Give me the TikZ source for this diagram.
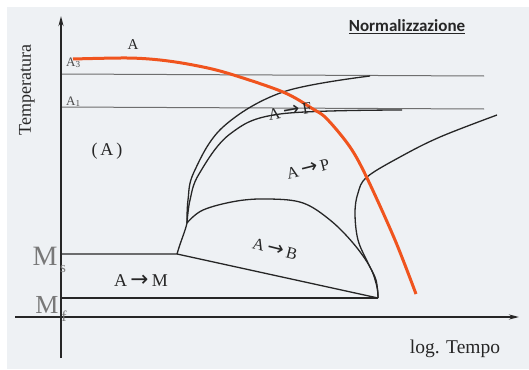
\documentclass[tikz,border=0pt]{standalone}
\usepackage{fontspec}
\setmainfont{Liberation Serif}
\newfontfamily\calib{Carlito}
\newfontfamily\arrfont{DejaVu Sans}
\newcommand\myarw{\hspace{0.18em}{\arrfont\scalebox{1.2}{→}}\hspace{0.18em}}
\usetikzlibrary{arrows.meta}
\definecolor{bgc}{RGB}{238,241,244}
\definecolor{orng}{RGB}{240,84,30}
\definecolor{grayl}{RGB}{110,110,110}
\definecolor{msgray}{RGB}{120,120,120}
\tikzset{
  curve/.style={line width=1.3pt, black!85},
  isoline/.style={line width=1pt, grayl},
  axis/.style={line width=1.8pt, black!85, -{Stealth[length=10pt,width=5pt]}},
  lbl/.style={inner sep=0pt, text=black!85},
}
\begin{document}
\begin{tikzpicture}[x=1pt,y=-1pt]
\useasboundingbox (0,0) rectangle (529,369);
\fill[white] (0,0) rectangle (529,369);
\fill[bgc] (7,7) rectangle (529,369);
% isotherm lines
\coordinate (a3l) at (61,74); \coordinate (a3r) at (484,76);
\coordinate (a1l) at (61,107); \coordinate (a1r) at (484,109);
\draw[isoline] (a3l) -- (a3r);
\draw[isoline] (a1l) -- (a1r);
% Ms, Mf lines
\coordinate (msl) at (61,254); \coordinate (ms) at (177,254);
\coordinate (mfl) at (61,298); \coordinate (nose) at (378,298);
\coordinate (stem) at (187,223);
\draw[curve] (msl) -- (ms) -- (nose);
\draw[curve] (mfl) -- (nose);
\draw[curve] (ms) .. controls (181,240) and (185,232) .. (stem);
% ferrite start
\draw[curve] plot[smooth, tension=0.6] coordinates {(187,223) (188,200) (194,172) (223,127) (283,92) (370,76)};
% pearlite start
\draw[curve] plot[smooth, tension=0.6] coordinates {(187,223) (190,200) (199,174) (230,134) (280,114) (402,110)};
% bainite nose
\draw[curve] plot[smooth, tension=0.6] coordinates {(187,223) (203,210) (237,201) (270,199) (303,203) (330,220) (353,243) (370,267) (377,287) (378,298)};
% pearlite finish
\draw[curve] plot[smooth, tension=0.6] coordinates {(497,115) (440,137) (400,157) (367,177) (358,193) (355,213) (358,240) (368,263) (376,280) (378,298)};
% axes
\coordinate (yb) at (61,358); \coordinate (yt) at (61,16);
\coordinate (xl) at (15,317); \coordinate (xr) at (519,317);
\draw[axis] (yb) -- (yt);
\draw[axis] (xl) -- (xr);
% cooling curve
\draw[line width=3pt, orng] plot[smooth, tension=0.55] coordinates {(73,59) (127,58) (160,60) (193,65) (227,73) (283,92) (313,109) (327,119) (350,147) (367,178) (395,240) (416,294)};
% labels
\node[lbl, font=\fontsize{18pt}{18pt}\selectfont, rotate=90] (temp) at (27,90) {Temperatura};
\node[lbl, font=\fontsize{19.5pt}{19.5pt}\selectfont] (tempo) at (455,349) {log. Tempo};
\node[lbl, font=\calib\bfseries\fontsize{17pt}{17pt}\selectfont] (title) at (407,27) {\underline{Normalizzazione}};
\node[lbl, font=\fontsize{15pt}{15pt}\selectfont] (A) at (133,45) {A};
\node[lbl, font=\fontsize{13pt}{13pt}\selectfont, text=black!70, anchor=base west] (A3) at (66,66) {A\textsubscript{3}};
\node[lbl, font=\fontsize{13pt}{13pt}\selectfont, text=black!70, anchor=base west] (A1) at (66,105) {A\textsubscript{1}};
\node[lbl, font=\fontsize{18pt}{18pt}\selectfont] (Apar) at (107,151) {(\,A\,)};
\node[lbl, font=\fontsize{18pt}{18pt}\selectfont] (AM) at (141,281) {A\myarw M};
\node[lbl, font=\fontsize{16.5pt}{16.5pt}\selectfont, rotate=10] (AF) at (290,111) {A\myarw F};
\node[lbl, font=\fontsize{16.5pt}{16.5pt}\selectfont, rotate=14] (AP) at (308,169) {A\myarw P};
\node[lbl, font=\fontsize{16.5pt}{16.5pt}\selectfont, rotate=-14] (AB) at (275,249) {A\myarw B};
\node[lbl, font=\fontsize{28pt}{28pt}\selectfont, text=msgray, anchor=base] (Ms) at (45,265) {M};
\node[lbl, font=\fontsize{15pt}{15pt}\selectfont, text=msgray, anchor=base] (Mss) at (63,272) {s};
\node[lbl, font=\fontsize{26pt}{26pt}\selectfont, text=msgray, anchor=base] (Mf) at (47,313) {M};
\node[lbl, font=\fontsize{15pt}{15pt}\selectfont, text=msgray, anchor=base] (Mff) at (64,321) {f};
\end{tikzpicture}
\end{document}
